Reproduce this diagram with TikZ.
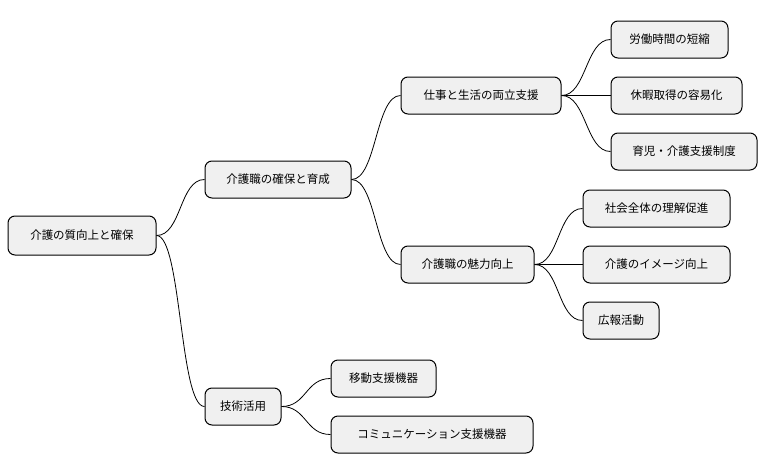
\documentclass[tikz,border=0pt]{standalone}
\usepackage{fontspec}
\newfontfamily\jp{Noto Sans CJK JP}
\begin{document}
\begin{tikzpicture}[x=1pt,y=-1pt,
  box/.style={draw=black,line width=1pt,fill=black!6,rounded corners=7pt,minimum height=37pt,inner sep=0pt,font=\jp\fontsize{11.5}{13}\selectfont,anchor=center},
  conn/.style={draw=black,line width=0.8pt}]
\useasboundingbox (0,0) rectangle (768,471);
\node[box,minimum width=148pt,minimum height=39pt] (r) at (82,235.5) {介護の質向上と確保};
\node[box,minimum width=146pt] (a) at (278,179.5) {介護職の確保と育成};
\node[box,minimum width=76pt] (b) at (243,406.5) {技術活用};
\node[box,minimum width=160pt] (a1) at (481,95.5) {仕事と生活の両立支援};
\node[box,minimum width=133pt] (a2) at (467.5,264.5) {介護職の魅力向上};
\node[box,minimum width=117pt] (l1) at (669.5,39.5) {労働時間の短縮};
\node[box,minimum width=131pt] (l2) at (676.5,95.5) {休暇取得の容易化};
\node[box,minimum width=146pt] (l3) at (684,151.5) {育児・介護支援制度};
\node[box,minimum width=147pt] (m1) at (656.5,208.5) {社会全体の理解促進};
\node[box,minimum width=147pt] (m2) at (656.5,264.5) {介護のイメージ向上};
\node[box,minimum width=76pt] (m3) at (621,320.5) {広報活動};
\node[box,minimum width=105pt] (n1) at (383.5,378.5) {移動支援機器};
\node[box,minimum width=202pt] (n2) at (432,434.5) {コミュニケーション支援機器};
\foreach \p/\c in {r/a,r/b,a/a1,a/a2,a1/l1,a1/l2,a1/l3,a2/m1,a2/m2,a2/m3,b/n1,b/n2}{
  \draw[conn] (\p.east) .. controls ([xshift=25pt]\p.east) and ([xshift=-25pt]\c.west) .. (\c.west);
}
\end{tikzpicture}
\end{document}
